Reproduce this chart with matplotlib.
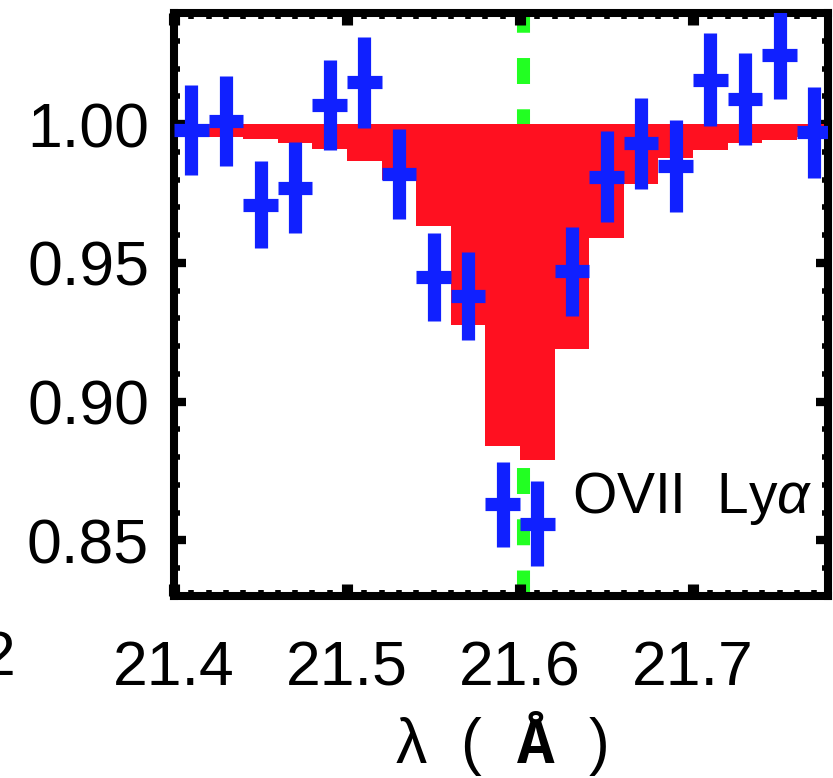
import numpy as np
import matplotlib
matplotlib.use("Agg")
import matplotlib.pyplot as plt
from matplotlib.ticker import MultipleLocator, FormatStrFormatter

plt.rcParams['font.family'] = ['Liberation Sans', 'DejaVu Sans']
plt.rcParams['mathtext.fontset'] = 'custom'
plt.rcParams['mathtext.it'] = 'Liberation Sans:italic'
plt.rcParams['mathtext.bf'] = 'Liberation Mono:bold'
plt.rcParams['lines.scale_dashes'] = False

# bin centres (Angstrom), 0.02 wide
wave = np.array([21.41, 21.43, 21.45, 21.47, 21.49, 21.51, 21.53, 21.55, 21.57, 21.59,
                 21.61, 21.63, 21.65, 21.67, 21.69, 21.71, 21.73, 21.75, 21.77])
# normalised flux and 1-sigma errors
flux = np.array([0.998, 1.001, 0.971, 0.977, 1.007, 1.015, 0.982, 0.945, 0.938, 0.863,
                 0.856, 0.947, 0.981, 0.993, 0.985, 1.016, 1.009, 1.025, 0.997])
err = np.array([0.0162, 0.0162, 0.0158, 0.0164, 0.0162, 0.0164, 0.0162, 0.0158, 0.0158, 0.0153,
                0.0153, 0.0160, 0.0164, 0.0164, 0.0165, 0.0167, 0.0167, 0.0160, 0.0165])
# absorption model
model = np.array([0.9956, 0.9953, 0.9946, 0.9932, 0.9910, 0.9866, 0.9797, 0.9633, 0.9276, 0.8842,
                  0.8790, 0.9190, 0.9590, 0.9785, 0.9876, 0.9908, 0.9932, 0.9944, 0.9955])
line_wave = 21.602
line_name = r"OVII  Ly$\alpha$"

binw = 0.02
edges = np.append(wave - binw / 2, wave[-1] + binw / 2)

fig = plt.figure(figsize=(8.33, 7.78), dpi=100)
ax = fig.add_axes([0.2089, 0.2339, 0.994 - 0.2089, 0.9833 - 0.2339])

ax.axvline(line_wave, color='#22ff22', lw=9.4, dashes=(18.7, 18.2), zorder=1)
ax.stairs(model, edges, baseline=1.0, fill=True, color='#ff1020', lw=0, zorder=2)
ax.errorbar(wave, flux, xerr=binw / 2, yerr=err, fmt='none', ecolor='#1020ff',
            elinewidth=9.5, capsize=0, zorder=3)

ax.text(21.630, 0.860, line_name, fontsize=41, ha='left', va='baseline', zorder=4)

ax.set_xlim(21.4, 21.778)
ax.set_ylim(0.83, 1.04)
ax.xaxis.set_major_locator(MultipleLocator(0.1))
ax.xaxis.set_minor_locator(MultipleLocator(0.01))
ax.yaxis.set_major_locator(MultipleLocator(0.05))
ax.yaxis.set_minor_locator(MultipleLocator(0.01))
ax.xaxis.set_major_formatter(FormatStrFormatter('%.1f'))
ax.yaxis.set_major_formatter(FormatStrFormatter('%.2f'))

for s in ax.spines.values():
    s.set_linewidth(5.8)
ax.tick_params(which='both', direction='in', top=True, right=True, labelsize=45)
ax.tick_params(axis='x', which='major', length=8.5, width=8, pad=31)
ax.tick_params(axis='y', which='major', length=8.5, width=6, pad=18)
ax.tick_params(which='minor', length=4.5, width=4)

ax.set_xlabel(r"λ  (  $\mathbf{\AA}$  )", fontsize=45, labelpad=8)

# tail of a neighbouring tick label, cut by the left edge
fig.text(16 / 833, 0.153, "2", fontsize=45, ha='right', va='center')

fig.savefig("out.png", dpi=100)
